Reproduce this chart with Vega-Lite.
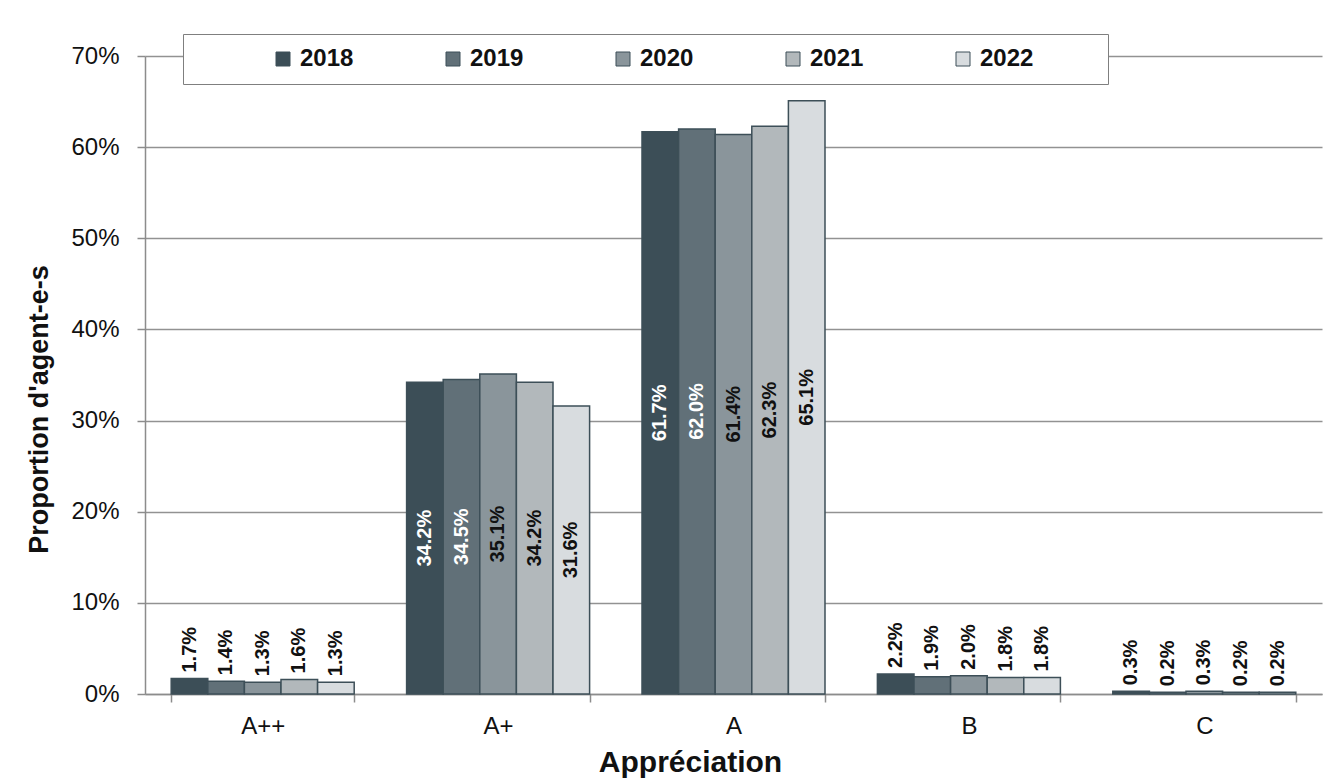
{
  "$schema": "https://vega.github.io/schema/vega-lite/v6.json",
  "width": 1177,
  "height": 638,
  "autosize": {"type": "none"},
  "padding": {"left": 145, "top": 56, "right": 2, "bottom": 86},
  "background": "white",
  "config": {
    "view": {"stroke": null},
    "font": "Liberation Sans"
  },
  "data": {
    "values": [
      {"grade": "A++", "year": "2018", "value": 0.017},
      {"grade": "A++", "year": "2019", "value": 0.014},
      {"grade": "A++", "year": "2020", "value": 0.013},
      {"grade": "A++", "year": "2021", "value": 0.016},
      {"grade": "A++", "year": "2022", "value": 0.013},
      {"grade": "A+", "year": "2018", "value": 0.342},
      {"grade": "A+", "year": "2019", "value": 0.345},
      {"grade": "A+", "year": "2020", "value": 0.351},
      {"grade": "A+", "year": "2021", "value": 0.342},
      {"grade": "A+", "year": "2022", "value": 0.316},
      {"grade": "A", "year": "2018", "value": 0.617},
      {"grade": "A", "year": "2019", "value": 0.620},
      {"grade": "A", "year": "2020", "value": 0.614},
      {"grade": "A", "year": "2021", "value": 0.623},
      {"grade": "A", "year": "2022", "value": 0.651},
      {"grade": "B", "year": "2018", "value": 0.022},
      {"grade": "B", "year": "2019", "value": 0.019},
      {"grade": "B", "year": "2020", "value": 0.020},
      {"grade": "B", "year": "2021", "value": 0.018},
      {"grade": "B", "year": "2022", "value": 0.018},
      {"grade": "C", "year": "2018", "value": 0.003},
      {"grade": "C", "year": "2019", "value": 0.002},
      {"grade": "C", "year": "2020", "value": 0.003},
      {"grade": "C", "year": "2021", "value": 0.002},
      {"grade": "C", "year": "2022", "value": 0.002}
    ]
  },
  "encoding": {
    "x": {
      "field": "grade",
      "type": "nominal",
      "sort": ["A++", "A+", "A", "B", "C"],
      "scale": {"paddingInner": 0.2226, "paddingOuter": 0.1113},
      "axis": {
        "title": "Appréciation",
        "labelAngle": 0,
        "tickBand": "extent",
        "labelFontSize": 24,
        "labelColor": "#111111",
        "labelPadding": 12,
        "tickSize": 8,
        "tickColor": "#8c8c8c",
        "tickWidth": 1.5,
        "domainColor": "#8c8c8c",
        "domainWidth": 1.5,
        "titleFontSize": 30,
        "titleFontWeight": "bold",
        "titleColor": "#111111",
        "titlePadding": 9,
        "titleX": 545
      }
    },
    "xOffset": {
      "field": "year",
      "type": "nominal",
      "scale": {"paddingInner": 0, "paddingOuter": 0}
    }
  },
  "layer": [
    {
      "mark": {"type": "bar", "stroke": "#3d4f58", "strokeWidth": 1.5},
      "encoding": {
        "y": {
          "field": "value",
          "type": "quantitative",
          "scale": {"domain": [0, 0.7], "nice": false},
          "axis": {
            "title": "Proportion d'agent-e-s",
            "values": [0, 0.1, 0.2, 0.3, 0.4, 0.5, 0.6, 0.7],
            "format": ".0%",
            "labelFontSize": 24,
            "labelColor": "#111111",
            "labelPadding": 18,
            "tickSize": 8,
            "tickColor": "#8c8c8c",
            "tickWidth": 1.5,
            "domainColor": "#8c8c8c",
            "domainWidth": 1.5,
            "gridColor": "#929292",
            "gridWidth": 1.5,
            "titleFontSize": 27,
            "titleFontWeight": "bold",
            "titleColor": "#111111",
            "titlePadding": 17,
            "titleY": 353
          }
        },
        "color": {
          "field": "year",
          "type": "nominal",
          "scale": {
            "domain": ["2018", "2019", "2020", "2021", "2022"],
            "range": ["#3c4e57", "#617078", "#8a959b", "#b2b8bb", "#d8dcdf"]
          },
          "legend": {
            "orient": "none",
            "legendX": 38,
            "legendY": -22,
            "direction": "horizontal",
            "columns": 5,
            "title": "\u00a0",
            "titleOrient": "left",
            "titlePadding": 75,
            "titleFontSize": 24,
            "labelFontSize": 24,
            "labelFontWeight": "bold",
            "labelColor": "#111111",
            "labelOffset": 5,
            "labelLimit": 300,
            "labelExpr": "datum.label == '2022' ? datum.label + '\u00a0\u2800\u2800\u2800' : datum.label",
            "symbolType": "square",
            "symbolSize": 196,
            "symbolStrokeColor": "#3d4f58",
            "symbolStrokeWidth": 1,
            "symbolOpacity": 1,
            "columnPadding": 87,
            "padding": 13,
            "fillColor": "white",
            "strokeColor": "#7f7f7f"
          }
        }
      }
    },
    {
      "transform": [
        {"filter": "datum.value >= 0.1"},
        {"calculate": "datum.value / 2", "as": "mid"}
      ],
      "mark": {
        "type": "text",
        "angle": 270,
        "align": "center",
        "baseline": "middle",
        "fontSize": 20,
        "fontWeight": "bold"
      },
      "encoding": {
        "y": {"field": "mid", "type": "quantitative"},
        "text": {"field": "value", "type": "quantitative", "format": ".1%"},
        "color": {
          "condition": {"test": "datum.year == '2018' || datum.year == '2019'", "value": "white"},
          "value": "#111111"
        }
      }
    },
    {
      "transform": [{"filter": "datum.value < 0.1"}],
      "mark": {
        "type": "text",
        "angle": 270,
        "align": "left",
        "baseline": "middle",
        "dx": 6,
        "fontSize": 20,
        "fontWeight": "bold",
        "color": "#111111"
      },
      "encoding": {
        "y": {"field": "value", "type": "quantitative"},
        "text": {"field": "value", "type": "quantitative", "format": ".1%"}
      }
    }
  ]
}
